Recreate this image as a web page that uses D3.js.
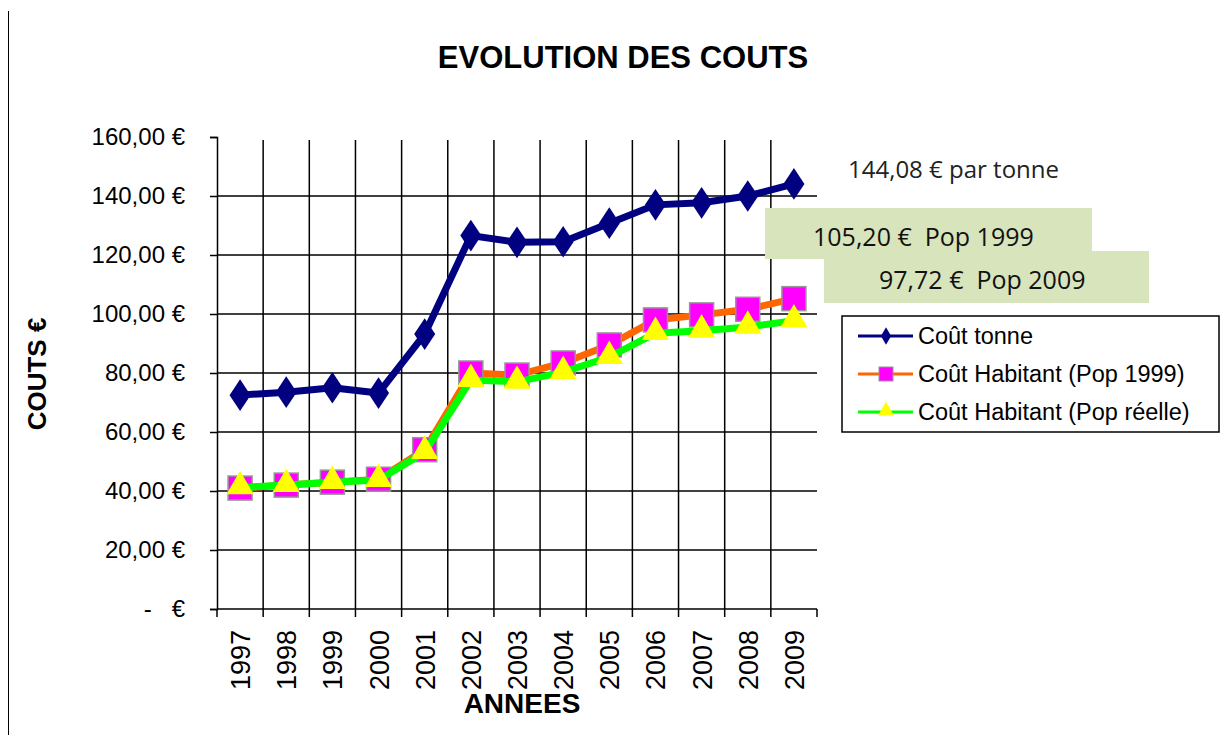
<!DOCTYPE html>
<html>
<head>
<meta charset="utf-8">
<script src="https://cdn.jsdelivr.net/npm/d3@7"></script>
<style>
body { margin: 0; background: #fff; }
svg { display: block; font-family: "Liberation Sans", Arial, sans-serif; }
.note { white-space: pre; }
</style>
</head>
<body>
<script>
"use strict";

// data
var years = ["1997", "1998", "1999", "2000", "2001", "2002", "2003", "2004", "2005", "2006", "2007", "2008", "2009"];
var coutTonne = [72.5, 73.5, 75.0, 73.2, 93.2, 126.6, 124.3, 124.5, 130.8, 137.0, 137.7, 140.0, 144.08];
var coutPop1999 = [41.0, 42.0, 43.0, 44.0, 54.0, 80.0, 79.3, 83.4, 89.5, 98.0, 99.7, 101.6, 105.2];
var coutPopReelle = [41.2, 42.0, 43.0, 43.7, 53.2, 77.6, 77.0, 80.3, 85.4, 93.5, 94.3, 95.6, 97.72];
var yTicks = [0, 20, 40, 60, 80, 100, 120, 140, 160];
var seriesNames = ["Coût tonne", "Coût Habitant (Pop 1999)", "Coût Habitant (Pop réelle)"];

var width = 1227, height = 746;
var svg = d3.select("body").append("svg")
	.attr("width", width)
	.attr("height", height);

// partial frame line on the left
svg.append("line")
	.attr("x1", 8.5).attr("x2", 8.5)
	.attr("y1", 11).attr("y2", 735)
	.attr("stroke", "#000").attr("stroke-width", 1);

var x = d3.scaleBand().domain(years).range([217, 817]);
var y = d3.scaleLinear().domain([0, 160]).range([609, 137]);

function fmt(v) {
	if (v === 0) return "-   €";
	return d3.format(".2f")(v).replace(".", ",") + " €";
}

// horizontal grid
svg.append("g").selectAll("line")
	.data(yTicks.filter(function(d) { return d > 0 && d < 160; }))
	.enter().append("line")
	.attr("x1", 217).attr("x2", 817)
	.attr("y1", function(d) { return y(d); })
	.attr("y2", function(d) { return y(d); })
	.attr("stroke", "#000").attr("stroke-width", 1.5);

// vertical grid at category boundaries
svg.append("g").selectAll("line")
	.data(years.slice(1))
	.enter().append("line")
	.attr("x1", function(d) { return x(d); })
	.attr("x2", function(d) { return x(d); })
	.attr("y1", 140).attr("y2", 609)
	.attr("stroke", "#000").attr("stroke-width", 1.5);

// y axis
var yAxis = svg.append("g")
	.attr("transform", "translate(217,0)")
	.call(d3.axisLeft(y).tickValues(yTicks).tickFormat(fmt).tickSize(7).tickPadding(25));
yAxis.selectAll("path, line").attr("stroke", "#000").attr("stroke-width", 1.5);
yAxis.selectAll("text").attr("font-size", 24).attr("fill", "#000")
	.attr("font-family", "Liberation Sans, Arial, sans-serif")
	.attr("class", "note");

// x axis
var xAxis = svg.append("g")
	.attr("transform", "translate(0,609)");
xAxis.append("line")
	.attr("x1", 217).attr("x2", 817).attr("y1", 0).attr("y2", 0)
	.attr("stroke", "#000").attr("stroke-width", 1.5);
xAxis.selectAll("line.tk")
	.data(years.concat(["end"]))
	.enter().append("line")
	.attr("class", "tk")
	.attr("x1", function(d, i) { return 217 + i * x.bandwidth(); })
	.attr("x2", function(d, i) { return 217 + i * x.bandwidth(); })
	.attr("y1", 0).attr("y2", 8)
	.attr("stroke", "#000").attr("stroke-width", 1.5);
xAxis.selectAll("text")
	.data(years)
	.enter().append("text")
	.attr("transform", function(d) {
		return "translate(" + (x(d) + x.bandwidth() / 2 + 10) + ",21) rotate(-90)";
	})
	.attr("text-anchor", "end")
	.attr("font-size", 27)
	.text(function(d) { return d; });

// titles
svg.append("text")
	.attr("x", 623).attr("y", 68)
	.attr("text-anchor", "middle")
	.attr("font-size", 31).attr("font-weight", "bold")
	.text("EVOLUTION DES COUTS");

svg.append("text")
	.attr("transform", "translate(46,374) rotate(-90)")
	.attr("text-anchor", "middle")
	.attr("font-size", 26).attr("font-weight", "bold")
	.text("COUTS €");

svg.append("text")
	.attr("x", 522).attr("y", 713)
	.attr("text-anchor", "middle")
	.attr("font-size", 28).attr("font-weight", "bold")
	.text("ANNEES");

var line = d3.line()
	.x(function(d, i) { return x(years[i]) + x.bandwidth() / 2; })
	.y(function(d) { return y(d); });

function cx(i) { return x(years[i]) + x.bandwidth() / 2; }

var diamond = d3.symbol().type(d3.symbolDiamond).size(290);
var triangle = d3.symbol().type(d3.symbolTriangle).size(320);

// Coût tonne
svg.append("path")
	.datum(coutTonne)
	.attr("d", line)
	.attr("fill", "none").attr("stroke", "#000080").attr("stroke-width", 7);
svg.append("g").selectAll("path")
	.data(coutTonne)
	.enter().append("path")
	.attr("d", diamond)
	.attr("transform", function(d, i) { return "translate(" + cx(i) + "," + y(d) + ") scale(1.15,1)"; })
	.attr("fill", "#000080");

// Pop 1999
svg.append("path")
	.datum(coutPop1999)
	.attr("d", line)
	.attr("fill", "none").attr("stroke", "#ff6600").attr("stroke-width", 7);
svg.append("g").selectAll("rect")
	.data(coutPop1999)
	.enter().append("rect")
	.attr("x", function(d, i) { return cx(i) - 12; })
	.attr("y", function(d) { return y(d) - 12; })
	.attr("width", 24).attr("height", 24)
	.attr("fill", "#ff00ff").attr("stroke", "#969696").attr("stroke-width", 1.5);

// Pop réelle
svg.append("path")
	.datum(coutPopReelle)
	.attr("d", line)
	.attr("fill", "none").attr("stroke", "#00ff00").attr("stroke-width", 7);
svg.append("g").selectAll("path")
	.data(coutPopReelle)
	.enter().append("path")
	.attr("d", triangle)
	.attr("transform", function(d, i) { return "translate(" + cx(i) + "," + (y(d) - 1) + ")"; })
	.attr("fill", "#ffff00");

// annotations
var noteFont = "Open Sans, Liberation Sans, sans-serif";
svg.append("text")
	.attr("x", 848).attr("y", 178)
	.attr("font-family", noteFont)
	.attr("font-size", 24).attr("fill", "#222")
	.text("144,08 € par tonne");

svg.append("rect")
	.attr("x", 765).attr("y", 208).attr("width", 327).attr("height", 51)
	.attr("fill", "#d8e4bc");
svg.append("rect")
	.attr("x", 824).attr("y", 251).attr("width", 325).attr("height", 52)
	.attr("fill", "#d8e4bc");
svg.append("text")
	.attr("class", "note")
	.attr("x", 813).attr("y", 246)
	.attr("font-family", noteFont)
	.attr("font-size", 25).attr("fill", "#111")
	.text("105,20 €  Pop 1999");
svg.append("text")
	.attr("class", "note")
	.attr("x", 879).attr("y", 289)
	.attr("font-family", noteFont)
	.attr("font-size", 25).attr("fill", "#111")
	.text("97,72 €  Pop 2009");

// legend
var legend = svg.append("g");
legend.append("rect")
	.attr("x", 842).attr("y", 316).attr("width", 377).attr("height", 116)
	.attr("fill", "#fff").attr("stroke", "#000").attr("stroke-width", 1.5);

var legendColors = ["#000080", "#ff6600", "#00ff00"];
var legendY = [336, 374, 412];
seriesNames.forEach(function(name, i) {
	var ly = legendY[i];
	legend.append("line")
		.attr("x1", 858).attr("x2", 913).attr("y1", ly).attr("y2", ly)
		.attr("stroke", legendColors[i]).attr("stroke-width", 3);
	if (i === 0) {
		legend.append("path")
			.attr("d", d3.symbol().type(d3.symbolDiamond).size(90))
			.attr("transform", "translate(886," + ly + ")")
			.attr("fill", "#000080");
	} else if (i === 1) {
		legend.append("rect")
			.attr("x", 879).attr("y", ly - 7).attr("width", 14).attr("height", 14)
			.attr("fill", "#ff00ff").attr("stroke", "#969696").attr("stroke-width", 1);
	} else {
		legend.append("path")
			.attr("d", d3.symbol().type(d3.symbolTriangle).size(110))
			.attr("transform", "translate(886," + (ly - 1) + ")")
			.attr("fill", "#ffff00");
	}
	legend.append("text")
		.attr("x", 918).attr("y", ly + 8)
		.attr("font-size", 23.5)
		.text(name);
});
</script>
</body>
</html>
